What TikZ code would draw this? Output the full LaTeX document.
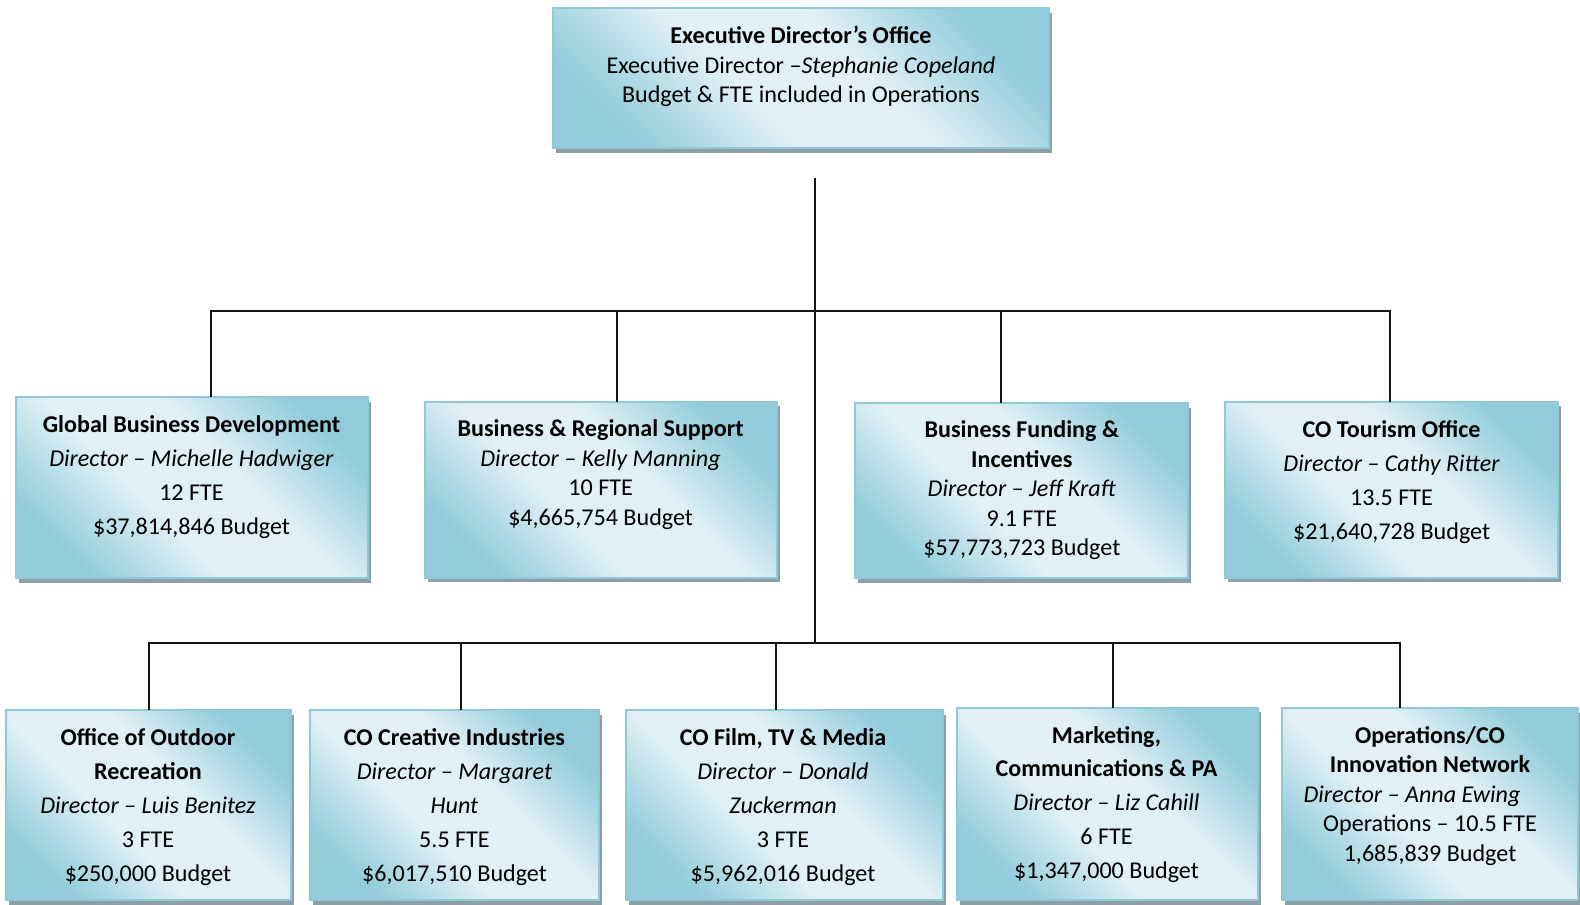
\documentclass[tikz,border=0pt]{standalone}
\usepackage{fontspec}
\setmainfont{Carlito}
\usetikzlibrary{shadows}
\definecolor{boxdark}{RGB}{146,204,219}
\definecolor{boxlight}{RGB}{224,240,245}
\definecolor{boxline}{RGB}{143,200,215}
\definecolor{shadowgray}{RGB}{140,158,166}
\definecolor{linkcol}{RGB}{20,20,20}
\pgfdeclareverticalshading{orgshade}{100bp}{color(0bp)=(boxdark); color(25bp)=(boxdark); color(42bp)=(boxlight); color(58bp)=(boxlight); color(75bp)=(boxdark); color(100bp)=(boxdark)}
\tikzset{
  orgbox/.style={rectangle, draw=boxline, line width=2pt, inner sep=0pt, outer sep=0pt,
    shading=orgshade, shading angle=-45,
    drop shadow={shadow xshift=3pt, shadow yshift=-4.5pt, fill=shadowgray, opacity=1}},
  orgtext/.style={align=center, inner sep=0pt, text=black},
  tight/.style={font=\fontsize{24.1pt}{29.5pt}\selectfont},
  loose/.style={font=\fontsize{24.1pt}{33.9pt}\selectfont},
  link/.style={draw=linkcol, line width=2pt, line join=miter}
}
\begin{document}
\begin{tikzpicture}[x=1pt,y=1pt]
\useasboundingbox (0,0) rectangle (1580,-905);
% boxes
\node[orgbox, minimum width=496pt, minimum height=140pt] (exec) at (801,-78) {};
\node[orgbox, minimum width=351.7pt, minimum height=181pt] (gbd) at (191.8,-487.5) {};
\node[orgbox, minimum width=351.7pt, minimum height=176.3pt] (brs) at (600.8,-489.8) {};
\node[orgbox, minimum width=333.5pt, minimum height=175pt] (bfi) at (1021.3,-490.5) {};
\node[orgbox, minimum width=333pt, minimum height=176.3pt] (cto) at (1391.5,-489.8) {};
\node[orgbox, minimum width=284.6pt, minimum height=190pt] (oor) at (148.3,-805) {};
\node[orgbox, minimum width=289pt, minimum height=190pt] (cci) at (454.5,-805) {};
\node[orgbox, minimum width=316.6pt, minimum height=190pt] (film) at (784.3,-805) {};
\node[orgbox, minimum width=301.5pt, minimum height=192.3pt] (mkt) at (1107.25,-803.85) {};
\node[orgbox, minimum width=296pt, minimum height=192pt] (ops) at (1430,-804) {};
% texts
\node[orgtext, tight] (exec-t) at (801,-66.5) {\textbf{Executive Director’s Office}\\Executive Director –\textit{Stephanie Copeland}\\Budget \& FTE included in Operations};
\node[orgtext, loose] (gbd-t) at (191.5,-477) {\textbf{Global Business Development}\\\textit{Director – Michelle Hadwiger}\\12 FTE\\\$37,814,846 Budget};
\node[orgtext, tight] (brs-t) at (600.6,-474.8) {\textbf{Business \& Regional Support}\\\textit{Director – Kelly Manning}\\10 FTE\\\$4,665,754 Budget};
\node[orgtext, tight] (bfi-t) at (1021.8,-490.3) {\textbf{Business Funding \&}\\\textbf{Incentives}\\\textit{Director – Jeff Kraft}\\9.1 FTE\\\$57,773,723 Budget};
\node[orgtext, loose] (cto-t) at (1391.6,-482.4) {\textbf{CO Tourism Office}\\\textit{Director – Cathy Ritter}\\13.5 FTE\\\$21,640,728 Budget};
\node[orgtext, loose] (oor-t) at (148,-807) {\textbf{Office of Outdoor}\\\textbf{Recreation}\\\textit{Director – Luis Benitez}\\3 FTE\\\$250,000 Budget};
\node[orgtext, loose] (cci-t) at (454.5,-807) {\textbf{CO Creative Industries}\\\textit{Director – Margaret}\\\textit{Hunt}\\5.5 FTE\\\$6,017,510 Budget};
\node[orgtext, loose] (film-t) at (783,-807) {\textbf{CO Film, TV \& Media}\\\textit{Director – Donald}\\\textit{Zuckerman}\\3 FTE\\\$5,962,016 Budget};
\node[orgtext, loose] (mkt-t) at (1106.5,-804.4) {\textbf{Marketing,}\\\textbf{Communications \& PA}\\\textit{Director – Liz Cahill}\\6 FTE\\\$1,347,000 Budget};
\node[orgtext, tight] (ops-t) at (1430,-796) {\textbf{Operations/CO}\\\textbf{Innovation Network}\\\textit{Director – Anna Ewing}\rule{36pt}{0pt}\\Operations – 10.5 FTE\\1,685,839 Budget};
% connector coordinates
\coordinate (trunkTop) at (815,-178);
\coordinate (trunkBot) at (815,-643);
\coordinate (b1L) at (210.5,-310.5);
\coordinate (b1R) at (1389.5,-310.5);
\coordinate (d12) at (616.5,-310.5);
\coordinate (d13) at (1000.5,-310.5);
\coordinate (b2L) at (149,-643);
\coordinate (b2R) at (1400,-643);
\coordinate (d22) at (461,-643);
\coordinate (d23) at (775.5,-643);
\coordinate (d24) at (1113,-643);
% connectors
\draw[link] (trunkTop) -- (trunkBot);
\draw[link] (b1L |- gbd.north) -- (b1L) -- (b1R) -- (b1R |- cto.north);
\draw[link] (d12) -- (d12 |- brs.north);
\draw[link] (d13) -- (d13 |- bfi.north);
\draw[link] (b2L |- oor.north) -- (b2L) -- (b2R) -- (b2R |- ops.north);
\draw[link] (d22) -- (d22 |- cci.north);
\draw[link] (d23) -- (d23 |- film.north);
\draw[link] (d24) -- (d24 |- mkt.north);
\end{tikzpicture}
\end{document}
